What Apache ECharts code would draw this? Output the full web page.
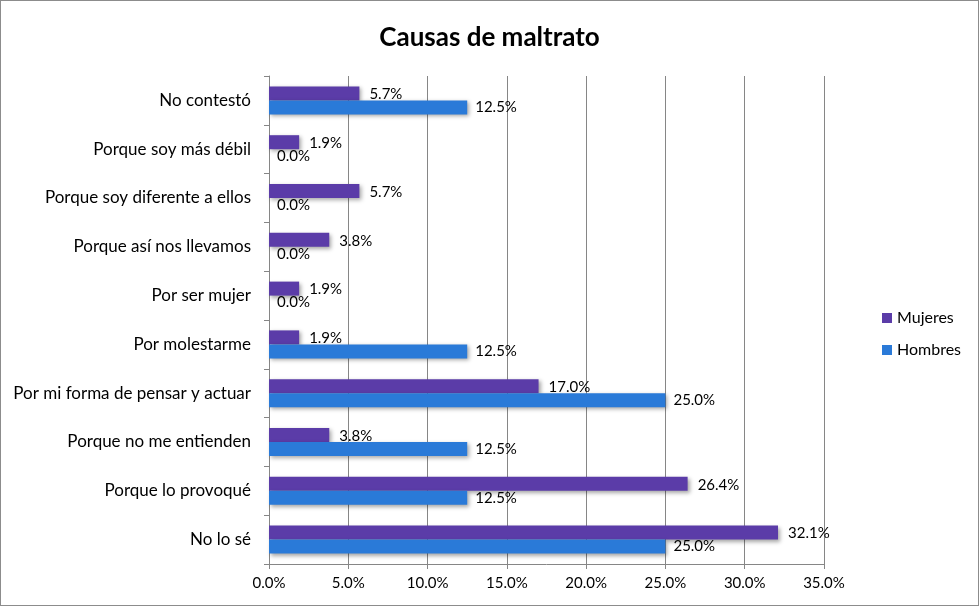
<!DOCTYPE html>
<html>
<head>
<meta charset="utf-8">
<script src="https://cdn.jsdelivr.net/npm/echarts@6/dist/echarts.min.js"></script>
<style>
  html, body { margin: 0; padding: 0; background: #fff; }
  #chart { width: 979px; height: 606px; box-sizing: border-box; border: 1px solid #8c8c8c; margin: 0; }
</style>
</head>
<body>
<div id="chart"></div>
<script>
// categories listed bottom to top
var categories = ['No lo sé', 'Porque lo provoqué', 'Porque no me entienden',
    'Por mi forma de pensar y actuar', 'Por molestarme', 'Por ser mujer',
    'Porque así nos llevamos', 'Porque soy diferente a ellos', 'Porque soy más débil', 'No contestó'];
var mujeres = [32.1, 26.4, 3.8, 17.0, 1.9, 1.9, 3.8, 5.7, 1.9, 5.7];
var hombres = [25.0, 12.5, 12.5, 25.0, 12.5, 0.0, 0.0, 0.0, 0.0, 12.5];
var xTicks = [0, 5, 10, 15, 20, 25, 30, 35];

var font = 'Lato, "Open Sans", sans-serif';
var pct = function (v) { return v.toFixed(1) + '%'; };

var barShadow = {
    shadowBlur: 4,
    shadowOffsetX: 2,
    shadowOffsetY: 2,
    shadowColor: 'rgba(0,0,0,0.35)'
};

var chart = echarts.init(document.getElementById('chart'));
chart.setOption({
    animation: false,
    title: {
        text: 'Causas de maltrato',
        left: 'center',
        top: 19,
        textStyle: { fontFamily: font, fontSize: 26, fontWeight: 'bold', color: '#000' }
    },
    legend: {
        data: ['Mujeres', 'Hombres'],
        orient: 'vertical',
        left: 876,
        top: 304,
        itemWidth: 10,
        itemHeight: 10,
        itemGap: 16,
        icon: 'rect',
        textStyle: { fontFamily: font, fontSize: 16, color: '#000' }
    },
    grid: { left: 268, right: 154, top: 75, bottom: 41 },
    xAxis: {
        type: 'value',
        min: xTicks[0],
        max: xTicks[xTicks.length - 1],
        interval: 5,
        axisLine: { show: true, lineStyle: { color: '#868686' } },
        axisTick: { show: true, length: 5, lineStyle: { color: '#868686' } },
        splitLine: { show: true, lineStyle: { color: '#868686' } },
        axisLabel: {
            margin: 12,
            fontFamily: font, fontSize: 15, color: '#000',
            formatter: function (v) { return pct(v); }
        }
    },
    yAxis: {
        type: 'category',
        data: categories,
        axisLine: { show: true, lineStyle: { color: '#868686' } },
        axisTick: { show: true, length: 5, lineStyle: { color: '#868686' } },
        axisLabel: { margin: 18, fontFamily: font, fontSize: 17, color: '#000' }
    },
    series: [
        {
            name: 'Mujeres',
            type: 'bar',
            data: mujeres,
            barWidth: 14,
            barGap: '0%',
            itemStyle: Object.assign({ color: '#5b3ca8' }, barShadow),
            label: {
                show: true, position: 'right', distance: 10, offset: [0, 1],
                fontFamily: font, fontSize: 15, color: '#000',
                formatter: function (p) { return pct(p.value); }
            }
        },
        {
            name: 'Hombres',
            type: 'bar',
            data: hombres,
            barWidth: 14,
            barGap: '0%',
            itemStyle: Object.assign({ color: '#2a7ad8' }, barShadow),
            label: {
                show: true, position: 'right', distance: 8,
                fontFamily: font, fontSize: 15, color: '#000',
                formatter: function (p) { return pct(p.value); }
            }
        }
    ]
});
</script>
</body>
</html>
